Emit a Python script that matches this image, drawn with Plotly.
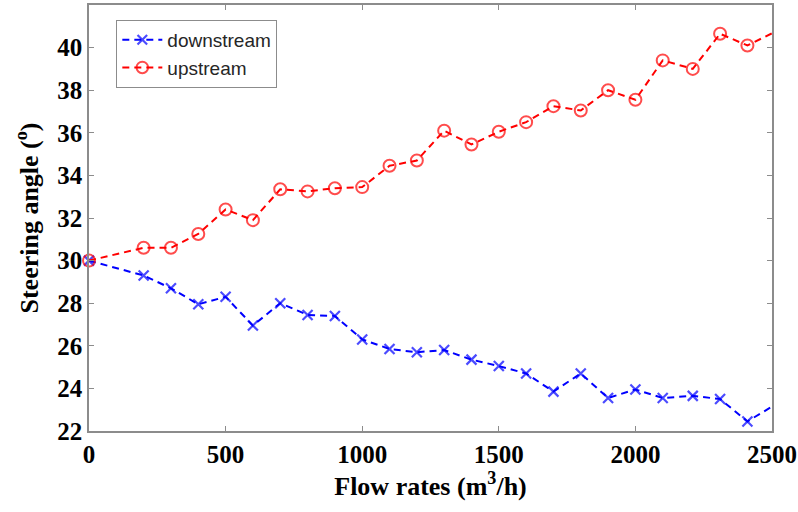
import plotly.graph_objects as go

flow_rates = [0, 200, 300, 400, 500, 600, 700, 800, 900, 1000, 1100, 1200, 1300,
              1400, 1500, 1600, 1700, 1800, 1900, 2000, 2100, 2210, 2310, 2410, 2520]
downstream = [30.0, 29.3, 28.7, 27.95, 28.3, 26.95, 28.0, 27.45, 27.4, 26.3, 25.85, 25.7, 25.8,
              25.35, 25.05, 24.7, 23.85, 24.7, 23.55, 23.95, 23.55, 23.65, 23.5, 22.45, 23.3]
upstream = [30.0, 30.6, 30.6, 31.25, 32.4, 31.9, 33.35, 33.25, 33.4, 33.45, 34.45, 34.7, 36.1,
            35.45, 36.05, 36.5, 37.25, 37.05, 38.0, 37.55, 39.4, 39.0, 40.65, 40.1, 40.8]

x_max = 2500
y_ticks = [22, 24, 26, 28, 30, 32, 34, 36, 38, 40]
x_ticks = [0, 500, 1000, 1500, 2000, 2500]

visible = [1 if v <= x_max else 0 for v in flow_rates]

fig = go.Figure()
fig.add_trace(go.Scatter(
    x=flow_rates, y=downstream, name="downstream", mode="lines+markers",
    line=dict(color="#0000ff", width=2, dash="7px,5px"),
    marker=dict(symbol="x-thin", size=[10 * v for v in visible],
                line=dict(color="#0000ff", width=2.2), color="#0000ff"),
    cliponaxis=False,
))
fig.add_trace(go.Scatter(
    x=flow_rates, y=upstream, name="upstream", mode="lines+markers",
    line=dict(color="#ff0000", width=2, dash="7px,5px"),
    marker=dict(symbol="circle-open", size=[12 * v for v in visible],
                line=dict(color="#ff0000", width=2), color="#ff0000"),
    cliponaxis=False,
))

axis_common = dict(
    showline=True, linecolor="#8c8c8c", linewidth=1.5, mirror="ticks",
    ticks="inside", ticklen=5, tickcolor="#8c8c8c", tickwidth=1,
    showgrid=False, zeroline=False, automargin=False,
    tickfont=dict(family="Liberation Serif", size=25, color="black", weight="bold"),
)

fig.update_layout(
    width=798, height=512,
    margin=dict(l=89, r=26, t=5, b=81),
    plot_bgcolor="white", paper_bgcolor="white",
    xaxis=dict(range=[0, x_max], tickvals=x_ticks, ticktext=[str(t) for t in x_ticks],
               title=dict(text="Flow rates (m<sup>3</sup>/h)", standoff=4,
                          font=dict(family="Liberation Serif", size=26, color="black", weight="bold")),
               **axis_common),
    yaxis=dict(range=[22, 42], tickvals=y_ticks, ticktext=[str(t) for t in y_ticks],
               title=dict(text="Steering angle (<sup>o</sup>)", standoff=11,
                          font=dict(family="Liberation Serif", size=26, color="black", weight="bold")),
               **axis_common),
    legend=dict(x=0.04, y=0.965, xanchor="left", yanchor="top",
                bgcolor="white", bordercolor="#8c8c8c", borderwidth=1,
                font=dict(family="Liberation Sans", size=19, color="#262626"),
                tracegroupgap=0, itemwidth=40),
    showlegend=True,
)

fig.write_html("out.html")
